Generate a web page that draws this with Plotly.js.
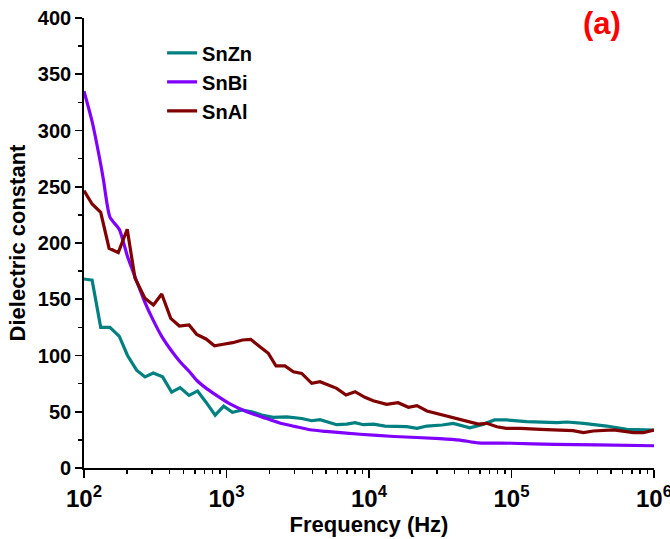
<!DOCTYPE html>
<html>
<head>
<meta charset="utf-8">
<script src="https://cdn.plot.ly/plotly-3.0.1.min.js"></script>
<style>html,body{margin:0;padding:0;background:#fff;}#chart{width:670px;height:539px;}</style>
</head>
<body>
<div id="chart"></div>
<script>
// SnZn
const znFreq = [100,114,131,152,177,202,234,268,306,356,412,472,546,627,718,833,955,1100,1295,1505,1767,2125,2650,3370,3965,4530,5930,6970,7980,9130,10760,12970,18450,21700,25500,32600,39000,51000,63000,76000,92000,128000,209000,245000,320000,466000,645000,1000000];
const znVal  = [168,167,125,125,117,100,87,81,84.5,81,67.5,71.5,64.5,68.5,58.5,47,55,49.5,51.5,50,47,45,45.5,44,42,43,38.5,39,40.3,38.5,39,37.3,36.7,35.3,37.3,38.2,39.7,35.8,38.8,42.7,42.7,41.2,40.3,40.9,39.7,37.3,34.4,33.8];
// SnBi
const biFreq = [100,114,131,137,152,177,202,228,268,307,351,412,472,546,617,718,810,1058,1387,1807,2363,3000,3855,5000,8650,15000,31500,43500,58500,100000,200000,400000,1000000];
const biVal  = [335,308,270,256,223,212,188,170,147,131,117,104,94.5,86,78,71,66.4,57,50,45,40,37,34,32.5,30,28,26.2,24.8,22.3,22,21,20.5,19.8];
// SnAl
const alFreq = [100,114,131,150,174,201,228,268,307,351,406,467,546,618,718,823,950,1105,1294,1478,1715,1966,2226,2570,2945,3370,3965,4530,5180,5930,6900,7980,9360,10700,13300,16000,18900,21700,25500,31600,43600,58500,67000,79000,92000,116000,160000,270000,320000,375000,520000,720000,840000,1000000];
const alVal  = [246.5,234.7,227.3,195.3,191.4,212.2,168.6,150.8,144.9,154.7,133,126.2,127.1,118.8,114.7,108.7,110,111.4,113.8,114.4,107.8,101.9,90.7,90.7,85.6,84.1,75.3,76.7,73.8,70.8,64.9,67.8,62.8,59.8,56.6,58,54,55.4,50.7,47.7,43,39.1,39.7,36.7,35.3,35.3,34.4,33.2,31.4,32.9,33.8,31.4,31.4,33.8];

const xTickVals = [100,1000,10000,100000,1000000];
const xTickText = ['10<sup>2</sup>','10<sup>3</sup>','10<sup>4</sup>','10<sup>5</sup>','10<sup>6</sup>'];
const xMinorVals = [200,300,400,500,600,700,800,900,2000,3000,4000,5000,6000,7000,8000,9000,20000,30000,40000,50000,60000,70000,80000,90000,200000,300000,400000,500000,600000,700000,800000,900000];

const traces = [
  {x: znFreq, y: znVal, name: 'SnZn', mode: 'lines', line: {color: '#008080', width: 3.2}},
  {x: biFreq, y: biVal, name: 'SnBi', mode: 'lines', line: {color: '#8000FF', width: 3.2, shape: 'spline', smoothing: 0.6}},
  {x: alFreq, y: alVal, name: 'SnAl', mode: 'lines', line: {color: '#800000', width: 3.2}}
];

const FAM = 'Arial, "Liberation Sans", sans-serif';

const layout = {
  width: 670, height: 539,
  margin: {l: 84, r: 16, t: 18, b: 71},
  paper_bgcolor: '#fff', plot_bgcolor: '#fff',
  font: {family: FAM, size: 18, color: '#000'},
  showlegend: true,
  legend: {x: 0.137, y: 0.966, xanchor: 'left', yanchor: 'top', bgcolor: 'rgba(0,0,0,0)',
           font: {family: FAM, size: 20, color: '#000', weight: 'bold'}},
  xaxis: {
    type: 'log', range: [2, 6],
    tickmode: 'array', tickvals: xTickVals, ticktext: xTickText,
    ticks: 'outside', ticklen: 8, tickwidth: 1.8, tickcolor: '#000',
    ticklabeloverflow: 'allow',
    showline: true, linecolor: '#000', linewidth: 1.8, mirror: false,
    showgrid: false, zeroline: false,
    minor: {tickmode: 'array', tickvals: xMinorVals, ticks: 'outside', ticklen: 4, tickwidth: 1.4, tickcolor: '#000', showgrid: false},
    tickfont: {family: FAM, size: 24, color: '#000', weight: 'bold'},
    title: {text: 'Frequency (Hz)', font: {family: FAM, size: 22, color: '#000', weight: 'bold'}, standoff: 0}
  },
  yaxis: {
    range: [0, 400],
    tickmode: 'linear', tick0: 0, dtick: 50,
    ticks: 'outside', ticklen: 7, tickwidth: 1.8, tickcolor: '#000',
    showline: true, linecolor: '#000', linewidth: 1.8, mirror: false,
    showgrid: false, zeroline: false,
    minor: {ticks: 'outside', ticklen: 4, tickwidth: 1.4, tickcolor: '#000', showgrid: false, dtick: 25},
    tickfont: {family: FAM, size: 20, color: '#000', weight: 'bold'},
    title: {text: 'Dielectric constant', font: {family: FAM, size: 22, color: '#000', weight: 'bold'}, standoff: 6}
  },
  annotations: [
    {text: '(a)', xref: 'paper', yref: 'paper', x: 0.909, y: 0.987, xanchor: 'center', yanchor: 'middle',
     showarrow: false, font: {family: FAM, size: 31, color: '#FF0000', weight: 'bold'}}
  ]
};

Plotly.newPlot('chart', traces, layout, {displayModeBar: false, staticPlot: true});
</script>
</body>
</html>
